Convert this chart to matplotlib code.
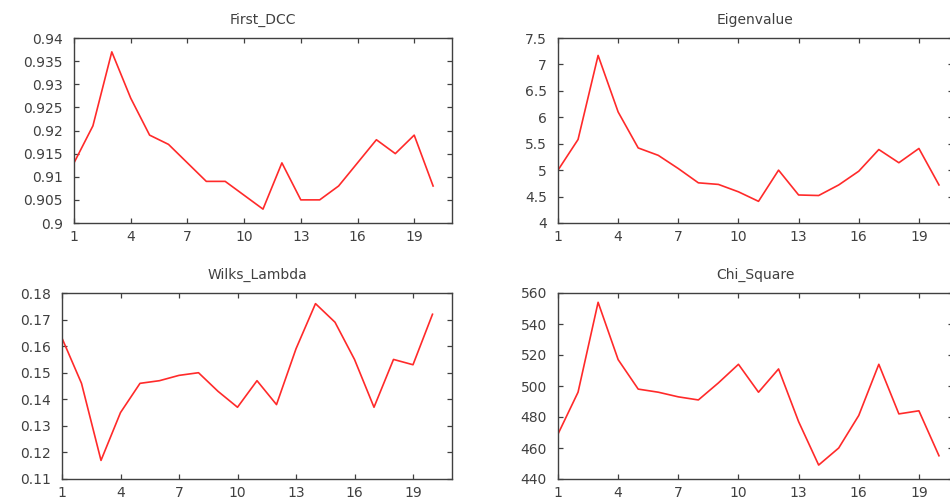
import matplotlib
matplotlib.use("Agg")
import matplotlib.pyplot as plt

# statistics per step, 20 steps
steps = list(range(1, 21))

first_dcc = [0.913, 0.921, 0.937, 0.927, 0.919, 0.917, 0.913, 0.909, 0.909, 0.906,
             0.903, 0.913, 0.905, 0.905, 0.908, 0.913, 0.918, 0.915, 0.919, 0.908]
eigenvalue = [5.00, 5.58, 7.17, 6.10, 5.42, 5.28, 5.03, 4.76, 4.73, 4.59,
              4.41, 5.00, 4.53, 4.52, 4.72, 4.98, 5.39, 5.14, 5.41, 4.72]
wilks_lambda = [0.163, 0.146, 0.117, 0.135, 0.146, 0.147, 0.149, 0.150, 0.143, 0.137,
                0.147, 0.138, 0.159, 0.176, 0.169, 0.155, 0.137, 0.155, 0.153, 0.172]
chi_square = [469, 496, 554, 517, 498, 496, 493, 491, 502, 514,
              496, 511, 477, 449, 460, 481, 514, 482, 484, 455]

titles = ["First_DCC", "Eigenvalue", "Wilks_Lambda", "Chi_Square"]
series = [first_dcc, eigenvalue, wilks_lambda, chi_square]
yticks = [
    [0.9, 0.905, 0.91, 0.915, 0.92, 0.925, 0.93, 0.935, 0.94],
    [4, 4.5, 5, 5.5, 6, 6.5, 7, 7.5],
    [0.11, 0.12, 0.13, 0.14, 0.15, 0.16, 0.17, 0.18],
    [440, 460, 480, 500, 520, 540, 560],
]
ylabels = [
    ["0.9", "0.905", "0.91", "0.915", "0.92", "0.925", "0.93", "0.935", "0.94"],
    ["4", "4.5", "5", "5.5", "6", "6.5", "7", "7.5"],
    ["0.11", "0.12", "0.13", "0.14", "0.15", "0.16", "0.17", "0.18"],
    ["440", "460", "480", "500", "520", "540", "560"],
]
xticks = [1, 4, 7, 10, 13, 16, 19]

W, H = 950, 497
# axes boxes in pixels: left, top, right, bottom
boxes = [
    (74, 38, 452, 223),
    (558, 38, 953, 223),
    (62, 293, 452, 479),
    (558, 293, 953, 479),
]
xmax = [21, 20.7, 21, 20.7]

grey = "#404040"
plt.rcParams["font.family"] = "DejaVu Sans"

fig = plt.figure(figsize=(W / 100, H / 100), dpi=100)
for i in range(4):
    l, t, r, b = boxes[i]
    ax = fig.add_axes([l / W, (H - b) / H, (r - l) / W, (b - t) / H])
    ax.plot(steps, series[i], color="#ff2a2a", lw=1.2)
    ax.set_xlim(1, xmax[i])
    ax.set_ylim(yticks[i][0], yticks[i][-1])
    ax.set_xticks(xticks)
    ax.set_yticks(yticks[i])
    ax.set_yticklabels(ylabels[i])
    ax.tick_params(direction="in", top=True, right=True, length=3.6, width=0.9,
                   colors=grey, labelsize=10, labelcolor=grey)
    ax.tick_params(axis="y", pad=8)
    ax.tick_params(axis="x", pad=5)
    for s in ax.spines.values():
        s.set_color(grey)
        s.set_linewidth(1.0)
    ax.set_title(titles[i], fontsize=10, color=grey, pad=10)

fig.savefig("out.png", dpi=100)
